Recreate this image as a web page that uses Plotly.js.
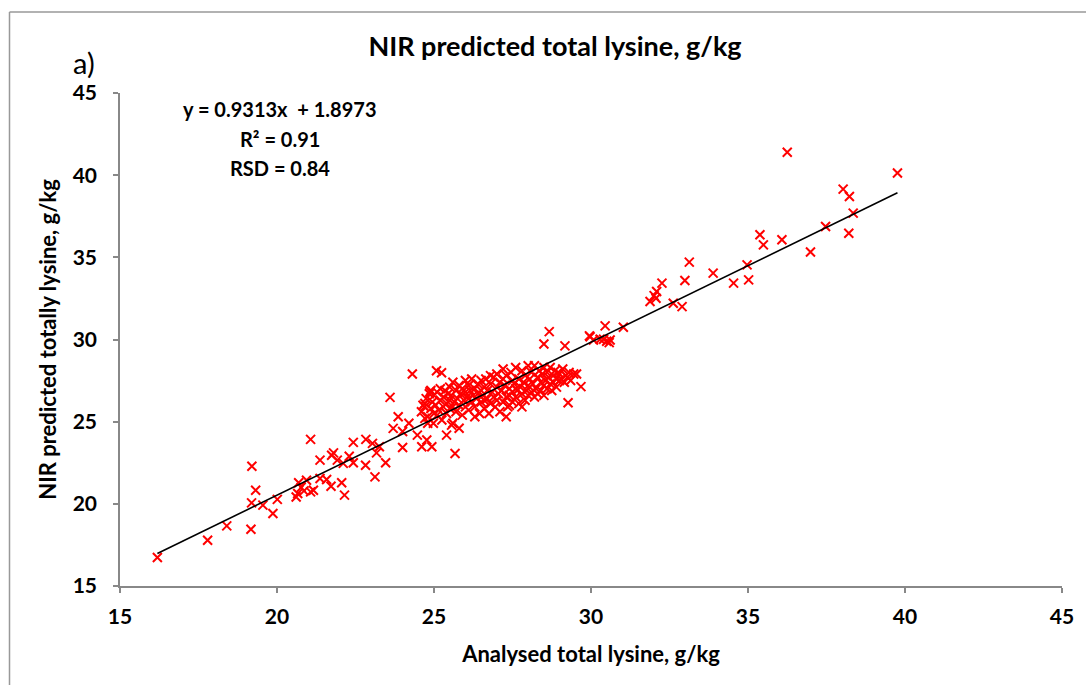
<!DOCTYPE html>
<html>
<head>
<meta charset="utf-8">
<script src="https://cdn.plot.ly/plotly-3.0.1.min.js"></script>
<style>html,body{margin:0;padding:0;background:#fff;}#chart{width:1086px;height:685px;}</style>
</head>
<body>
<div id="chart"></div>
<script>
// Analysed total lysine (g/kg) and NIR predicted total lysine (g/kg)
const analysedX = [
  16.19,17.79,18.40,19.17,19.20,19.32,19.19,19.55,19.87,20.01,20.61,20.69,20.77,20.86,20.94,20.66,21.07,21.16,21.07,21.37,
  21.37,21.58,21.72,21.74,21.80,21.92,22.06,22.15,22.11,22.30,22.43,22.43,22.83,22.82,23.04,23.12,23.17,23.26,23.46,23.70,
  23.86,23.60,24.00,24.20,24.47,24.61,24.77,24.93,25.40,25.56,25.67,24.31,25.08,25.24,24.71,24.87,24.71,24.98,24.00,
  24.60,24.65,24.70,24.75,24.80,24.85,24.90,24.95,25.00,25.00,24.80,24.90,
  25.05,25.10,25.10,25.15,25.20,25.20,25.25,25.30,25.30,25.35,25.40,25.40,25.45,25.50,25.50,25.50,
  25.55,25.60,25.60,25.65,25.70,25.70,25.75,25.80,25.80,25.85,25.90,25.90,25.95,26.00,26.00,26.00,25.60,25.80,
  26.05,26.10,26.10,26.15,26.20,26.20,26.25,26.30,26.30,26.35,26.40,26.40,26.45,26.50,26.50,26.50,26.30,26.10,
  26.55,26.60,26.60,26.65,26.70,26.70,26.75,26.80,26.80,26.85,26.90,26.90,26.95,27.00,27.00,27.00,26.60,26.80,
  27.05,27.10,27.10,27.15,27.20,27.20,27.25,27.30,27.30,27.35,27.40,27.40,27.45,27.50,27.50,27.50,27.20,27.30,27.40,
  27.55,27.60,27.60,27.65,27.70,27.70,27.75,27.80,27.80,27.85,27.90,27.90,27.95,28.00,28.00,28.00,27.60,27.80,
  28.05,28.10,28.10,28.15,28.20,28.20,28.25,28.30,28.30,28.35,28.40,28.40,28.45,28.50,28.50,28.50,
  28.55,28.60,28.60,28.65,28.70,28.70,28.75,28.80,28.80,28.85,28.90,28.90,28.95,29.00,29.00,
  29.05,29.10,29.15,29.20,29.25,29.30,29.35,29.45,29.54,29.68,29.27,
  28.67,28.50,29.17,30.45,29.97,30.29,30.50,30.58,31.03,30.40,30.61,29.95,30.08,
  31.88,32.01,32.07,32.09,32.26,32.62,32.90,32.99,33.13,33.89,34.54,34.97,35.02,35.38,35.49,36.08,36.25,36.99,37.47,38.03,
  38.23,38.35,38.21,39.76
];
const predictedY = [
  16.73,17.78,18.66,18.45,22.29,20.83,20.06,19.92,19.41,20.27,20.42,21.28,21.00,20.79,21.44,20.63,20.73,20.83,23.92,22.66,
  21.54,21.48,21.07,22.96,23.10,22.66,21.28,20.53,22.46,22.90,22.50,23.74,23.92,22.35,23.68,21.64,23.10,23.47,22.50,24.59,
  25.30,26.48,23.43,24.90,24.18,23.47,23.88,23.47,24.18,24.79,23.06,27.90,28.10,27.98,26.11,26.82,25.20,24.90,24.40,
  25.60,26.00,25.90,26.40,25.30,26.70,25.80,26.20,25.50,26.60,24.90,26.90,
  26.00,25.40,26.80,25.70,26.30,27.00,25.10,26.50,25.90,26.90,26.10,25.50,26.70,27.10,25.80,26.30,
  26.60,27.40,25.90,26.20,26.90,25.60,26.40,27.20,26.00,26.70,25.40,27.00,26.30,26.80,27.50,25.90,24.90,24.60,
  26.50,27.20,25.70,26.90,26.20,27.60,26.60,27.00,25.90,26.40,27.30,26.70,25.50,26.90,27.50,26.20,25.30,26.40,
  26.60,27.10,25.80,27.60,26.40,26.90,25.50,27.30,26.10,26.80,27.70,26.50,25.90,27.10,26.30,27.90,26.30,27.80,
  26.70,27.40,25.60,26.90,28.20,26.20,27.20,26.50,27.80,25.90,27.00,26.60,28.00,26.20,27.50,26.80,27.60,25.30,26.00,
  27.30,26.50,28.30,26.90,27.60,26.10,27.10,28.10,26.70,27.40,26.30,27.80,26.90,28.40,27.20,26.60,27.00,25.90,
  27.60,26.80,28.00,27.30,26.50,28.40,27.00,27.70,26.70,28.10,27.40,26.90,27.90,27.20,28.30,26.60,
  27.50,28.00,27.00,27.70,28.30,27.30,26.90,27.80,27.40,28.10,27.60,27.10,28.00,27.50,27.90,
  27.60,28.20,27.40,27.80,27.70,28.00,27.50,27.90,27.90,27.13,26.15,
  30.48,29.73,29.61,30.83,30.17,30.02,29.89,29.81,30.75,30.02,29.97,30.22,29.97,
  32.31,32.67,32.51,32.92,33.43,32.21,32.00,33.59,34.71,34.04,33.43,34.54,33.63,36.37,35.76,36.07,41.39,35.32,36.88,39.15,
  38.70,37.69,36.47,40.13
];
// Trend line from the regression shown on the chart
const fitSlope = 0.9313;
const fitIntercept = 1.8973;
const statLabels = ["y = 0.9313x  + 1.8973", "R² = 0.91", "RSD = 0.84"];
const xTicks = [15, 20, 25, 30, 35, 40, 45];
const yTicks = [15, 20, 25, 30, 35, 40, 45];

const xMin = Math.min(...analysedX), xMax = Math.max(...analysedX);
const fitX = [xMin, xMax];
const fitY = fitX.map(v => fitSlope * v + fitIntercept);

const FONT = "Lato, 'Liberation Sans', sans-serif";
const W = 1086, H = 685, L = 120, R = 24, T = 93, B = 99;
const pw = W - L - R, ph = H - T - B;
const px = v => (v - L) / pw;
const py = v => (H - B - v) / ph;

const traces = [
  {
    x: analysedX, y: predictedY, type: 'scatter', mode: 'markers',
    marker: {symbol: 'x-thin-open', size: 9, color: '#ff0000', line: {color: '#ff0000', width: 2}},
    hoverinfo: 'x+y'
  },
  {
    x: fitX, y: fitY, type: 'scatter', mode: 'lines',
    line: {color: '#000000', width: 1.6}, hoverinfo: 'skip'
  }
];

const axisCommon = {
  showgrid: false, zeroline: false, showline: true, linecolor: '#888888', linewidth: 1.5,
  ticks: 'outside', ticklen: 5, tickcolor: '#888888', tickwidth: 1.5,
  tickfont: {family: FONT, size: 21, color: '#000', weight: 'bold'}
};

const layout = {
  width: W, height: H,
  margin: {l: L, r: R, t: T, b: B},
  paper_bgcolor: '#fff', plot_bgcolor: '#fff',
  showlegend: false,
  title: {
    text: '<b>NIR predicted total lysine, g/kg</b>',
    font: {family: FONT, size: 27, color: '#000'},
    xref: 'paper', x: px(555), xanchor: 'center',
    yref: 'container', y: 1 - 47 / H, yanchor: 'middle'
  },
  xaxis: Object.assign({}, axisCommon, {
    range: [15, 45], tickvals: xTicks, ticktext: xTicks.map(String), ticklabelstandoff: 6,
    title: {text: '<b>Analysed total lysine, g/kg</b>', font: {family: FONT, size: 22, color: '#000'}, standoff: 20}
  }),
  yaxis: Object.assign({}, axisCommon, {
    range: [15, 45], tickvals: yTicks, ticktext: yTicks.map(String), ticklabelstandoff: 12,
    title: {text: '<b>NIR predicted totally lysine, g/kg</b>', font: {family: FONT, size: 22, color: '#000'}, standoff: 10}
  }),
  annotations: [
    {text: 'a)', xref: 'paper', yref: 'paper', x: px(71), y: py(63), xanchor: 'left', yanchor: 'middle',
     showarrow: false, font: {family: FONT, size: 29, color: '#000'}},
    ...statLabels.map((t, i) => ({
      text: '<b>' + t + '</b>', xref: 'paper', yref: 'paper', x: px(280), y: py([109, 139, 168][i]),
      xanchor: 'center', yanchor: 'middle', showarrow: false,
      font: {family: FONT, size: 20, color: '#000'}
    }))
  ],
  shapes: [
    {type: 'line', xref: 'paper', yref: 'paper', x0: px(9.5), x1: px(1100), y0: py(12), y1: py(12),
     line: {color: '#999999', width: 1.5}},
    {type: 'line', xref: 'paper', yref: 'paper', x0: px(9.5), x1: px(9.5), y0: py(12), y1: py(700),
     line: {color: '#999999', width: 1.5}}
  ]
};

Plotly.newPlot('chart', traces, layout, {displayModeBar: false, responsive: false});
</script>
</body>
</html>
